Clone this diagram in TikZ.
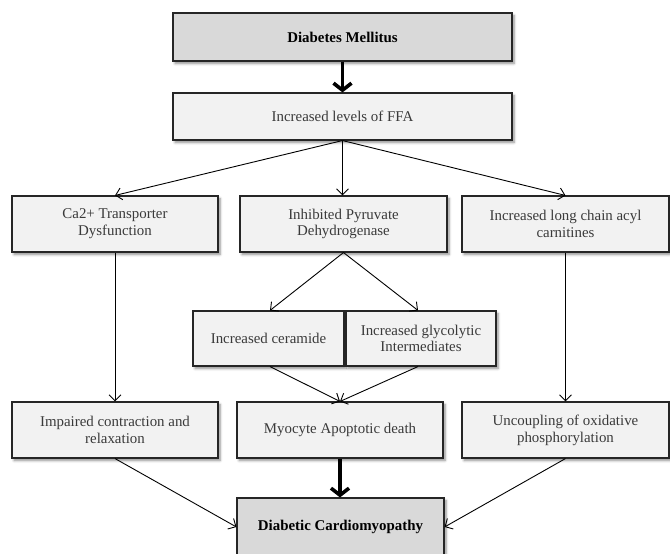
\documentclass[tikz,border=0pt]{standalone}
\usepackage{fontspec}
\setmainfont{Liberation Serif}
\usetikzlibrary{arrows.meta,shadows.blur}
\definecolor{boxlight}{HTML}{F2F2F2}
\definecolor{boxdark}{HTML}{D9D9D9}
\definecolor{txt}{HTML}{3A3A3A}
\tikzset{
  bx/.style={draw=black!85, line width=1.1pt, fill=boxlight, inner sep=2pt,
    align=center, text=txt, font=\fontsize{14.9}{16.8}\selectfont,
    blur shadow={shadow xshift=2pt, shadow yshift=-2.5pt, shadow blur steps=6, shadow blur radius=2.5pt, shadow opacity=45}},
  bxdark/.style={bx, fill=boxdark, text=black, font=\fontsize{14.9}{16.8}\selectfont\bfseries},
  thin/.style={-{Straight Barb[length=6pt,width=12pt]}, line width=0.9pt, black},
  thick/.style={-{Straight Barb[length=7pt,width=18pt]}, line width=3.6pt, black},
}
\begin{document}
\begin{tikzpicture}[x=1pt,y=-1pt]
\useasboundingbox (0,0) rectangle (670,554);
\node[bxdark, minimum width=339pt, minimum height=48pt] (dm) at (342.5,37) {Diabetes Mellitus};
\node[bx, minimum width=339pt, minimum height=47pt] (ffa) at (342.5,116.5) {Increased levels of FFA};
\node[bx, minimum width=206pt, minimum height=56pt] (ca) at (115,224) {Ca2+ Transporter\\Dysfunction};
\node[bx, minimum width=207pt, minimum height=56pt] (pyr) at (343.5,224) {Inhibited Pyruvate\\Dehydrogenase};
\node[bx, minimum width=207pt, minimum height=56pt] (acyl) at (565.5,224) {Increased long chain acyl\\carnitines};
\node[bx, minimum width=151pt, minimum height=55pt] (cer) at (268.5,338.5) {Increased ceramide};
\node[bx, minimum width=150pt, minimum height=55pt] (gly) at (421,338.5) {Increased glycolytic\\Intermediates};
\node[bx, minimum width=206pt, minimum height=56pt] (imp) at (115,430) {Impaired contraction and\\relaxation};
\node[bx, minimum width=206pt, minimum height=56pt] (myo) at (340,430) {Myocyte Apoptotic death};
\node[bx, minimum width=207pt, minimum height=56pt] (unc) at (565.5,430) {Uncoupling of oxidative\\phosphorylation};
\node[bxdark, minimum width=207pt, minimum height=58pt] (dc) at (340.5,527) {Diabetic Cardiomyopathy};

\draw[thick] (dm.south) -- (ffa.north);
\draw[thin] (ffa.south) -- (ca.north);
\draw[thin] (ffa.south) -- (pyr.north -| ffa.south);
\draw[thin] (ffa.south) -- (acyl.north);
\draw[thin] (pyr.south) -- ([xshift=1.5pt]cer.north);
\draw[thin] (pyr.south) -- ([xshift=-3pt]gly.north);
\draw[thin] (ca.south) -- (imp.north);
\draw[thin] (acyl.south) -- (unc.north);
\draw[thin] ([xshift=1.5pt]cer.south) -- (myo.north);
\draw[thin] ([xshift=-3pt]gly.south) -- (myo.north);
\draw[thick] (myo.south) -- (dc.north -| myo.south);
\draw[thin] (imp.south) -- (dc.west);
\draw[thin] (unc.south) -- (dc.east);
\end{tikzpicture}
\end{document}
